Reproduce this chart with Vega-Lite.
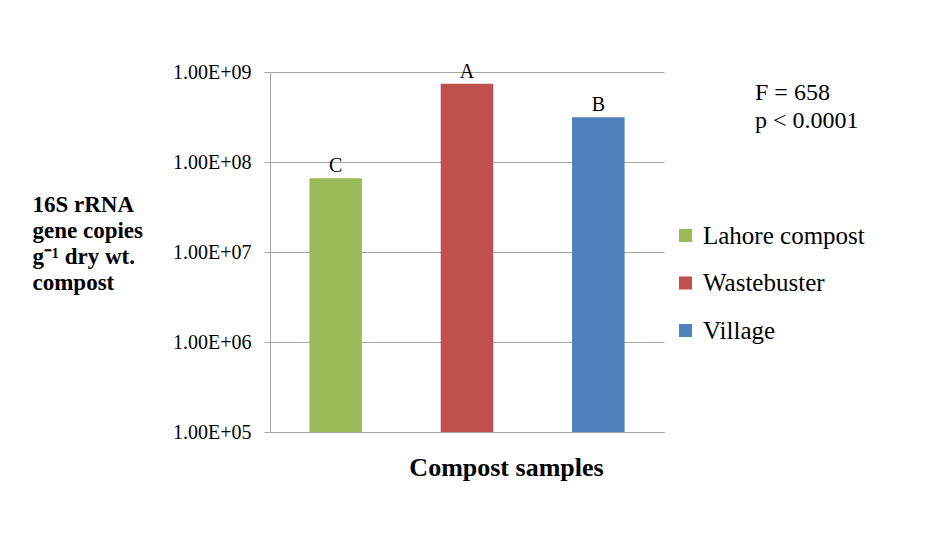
{
  "$schema": "https://vega.github.io/schema/vega-lite/v6.json",
  "width": 394,
  "height": 360,
  "autosize": {"type": "none"},
  "padding": {"left": 270, "top": 72, "right": 271, "bottom": 101},
  "background": "white",
  "config": {
    "font": "Liberation Serif",
    "view": {"stroke": null},
    "axis": {"labelFont": "Liberation Serif", "titleFont": "Liberation Serif", "labelColor": "black", "titleColor": "black"}
  },
  "title": {
    "text": ["F = 658", "p < 0.0001"],
    "anchor": "start",
    "frame": "group",
    "align": "left",
    "baseline": "alphabetic",
    "dx": 485,
    "dy": 90,
    "offset": 0,
    "fontSize": 24,
    "fontWeight": "normal",
    "lineHeight": 28,
    "font": "Liberation Serif",
    "color": "black"
  },
  "data": {
    "values": [
      {"sample": "Lahore compost", "copies": 66000000, "group": "C"},
      {"sample": "Wastebuster", "copies": 740000000, "group": "A"},
      {"sample": "Village", "copies": 314000000, "group": "B"}
    ]
  },
  "encoding": {
    "x": {
      "field": "sample",
      "type": "nominal",
      "sort": ["Lahore compost", "Wastebuster", "Village"],
      "scale": {"paddingInner": 0.6, "paddingOuter": 0.3},
      "axis": {
        "labels": false,
        "ticks": false,
        "domain": true,
        "domainColor": "#a6a6a6",
        "domainWidth": 1,
        "title": "Compost samples",
        "titleFontSize": 26,
        "titleFontWeight": "bold",
        "titleX": 236,
        "titleY": 43,
        "titleAlign": "center",
        "titleBaseline": "alphabetic"
      }
    },
    "y": {
      "field": "copies",
      "type": "quantitative",
      "scale": {"type": "log", "domain": [100000, 1000000000]},
      "axis": {
        "values": [100000, 1000000, 10000000, 100000000, 1000000000],
        "labelExpr": "'1.00E+0' + round(log(datum.value) / LN10)",
        "labelFontSize": 20,
        "labelPadding": 13,
        "tickSize": 6,
        "tickColor": "#a6a6a6",
        "domainColor": "#a6a6a6",
        "gridColor": "#a6a6a6",
        "grid": true,
        "title": ["16S rRNA", "gene copies", "g⁻¹  dry wt.", "compost"],
        "titleFontSize": 23,
        "titleFontWeight": "bold",
        "titleAngle": 0,
        "titleAlign": "left",
        "titleBaseline": "alphabetic",
        "titleLineHeight": 26,
        "titleX": -238,
        "titleY": 139
      }
    }
  },
  "layer": [
    {
      "mark": {"type": "bar"},
      "encoding": {
        "y2": {"datum": 100000},
        "color": {
          "field": "sample",
          "type": "nominal",
          "sort": ["Lahore compost", "Wastebuster", "Village"],
          "scale": {"domain": ["Lahore compost", "Wastebuster", "Village"], "range": ["#9BBB59", "#C0504D", "#4F81BD"]},
          "legend": {
            "title": null,
            "orient": "none",
            "legendX": 403,
            "legendY": 151,
            "padding": 0,
            "symbolType": "square",
            "symbolSize": 169,
            "symbolStrokeWidth": 0,
            "labelFontSize": 25,
            "labelFont": "Liberation Serif",
            "labelColor": "black",
            "labelOffset": 5,
            "labelLimit": 400,
            "rowPadding": 21.5
          }
        }
      }
    },
    {
      "mark": {"type": "text", "baseline": "alphabetic", "dy": -6, "fontSize": 20, "font": "Liberation Serif", "color": "black"},
      "encoding": {
        "text": {"field": "group", "type": "nominal"}
      }
    }
  ]
}
